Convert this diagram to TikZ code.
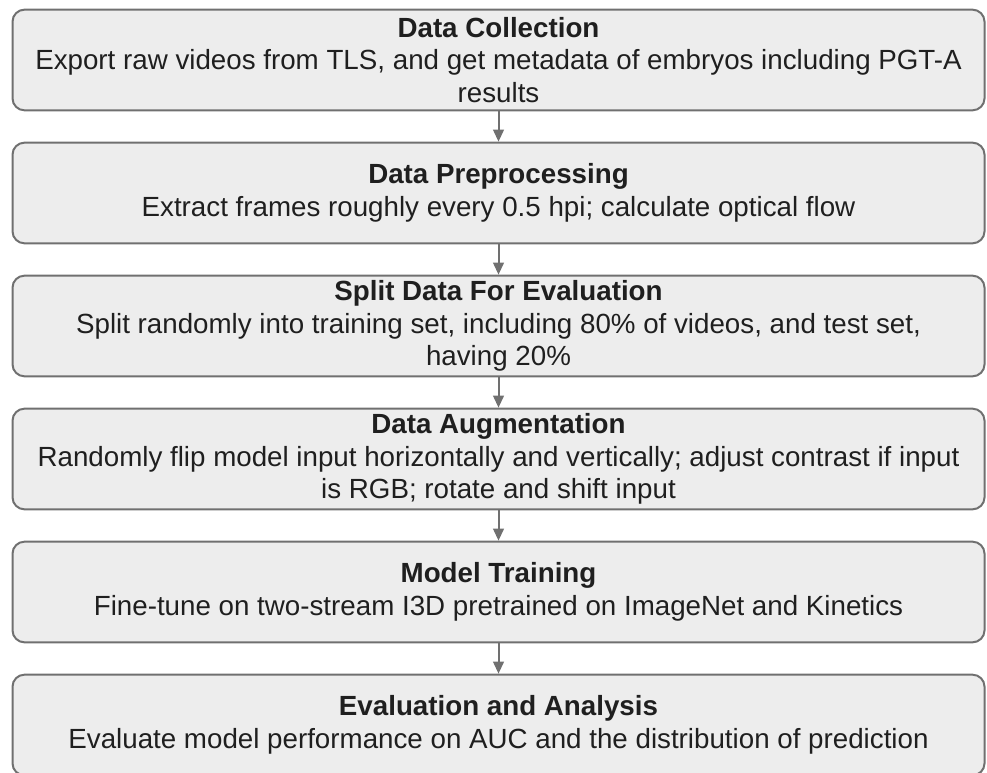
\documentclass[tikz,border=0pt]{standalone}
\usepackage{fontspec}
\setmainfont{Liberation Sans}
\usepackage{tikz}
\usetikzlibrary{arrows.meta}
\definecolor{stagefill}{HTML}{EDEDED}
\definecolor{stageline}{HTML}{707070}
\tikzstyle{stage}=[draw=stageline, line width=1.5pt, fill=stagefill, rounded corners=9pt,
	minimum width=729pt, minimum height=75.5pt, align=center, text=black!88,
	font=\fontsize{20.8}{24.6}\selectfont, inner sep=0pt]
\tikzstyle{flow}=[draw=stageline, line width=1.5pt, -{Triangle[length=9pt,width=8pt]}]

\begin{document}
\begin{tikzpicture}[x=0.75pt, y=-0.75pt]
	\useasboundingbox (0,0) rectangle (987,773);
	\node[stage] (collect) at (498.5,60) {\textbf{Data Collection}\\Export raw videos from TLS, and get metadata of embryos including PGT-A\\results};
	\node[stage] (prep) at (498.5,193) {\textbf{Data Preprocessing}\\Extract frames roughly every 0.5 hpi; calculate optical flow};
	\node[stage] (split) at (498.5,326) {\textbf{Split Data For Evaluation}\\Split randomly into training set, including 80\% of videos, and test set,\\having 20\%};
	\node[stage] (augment) at (498.5,459) {\textbf{Data Augmentation}\\Randomly flip model input horizontally and vertically; adjust contrast if input\\is RGB; rotate and shift input};
	\node[stage] (train) at (498.5,592) {\textbf{Model Training}\\Fine-tune on two-stream I3D pretrained on ImageNet and Kinetics};
	\node[stage] (eval) at (498.5,725) {\textbf{Evaluation and Analysis}\\Evaluate model performance on AUC and the distribution of prediction};
%	connectors
	\draw[flow] (collect) -- (prep);
	\draw[flow] (prep) -- (split);
	\draw[flow] (split) -- (augment);
	\draw[flow] (augment) -- (train);
	\draw[flow] (train) -- (eval);
\end{tikzpicture}
\end{document}
